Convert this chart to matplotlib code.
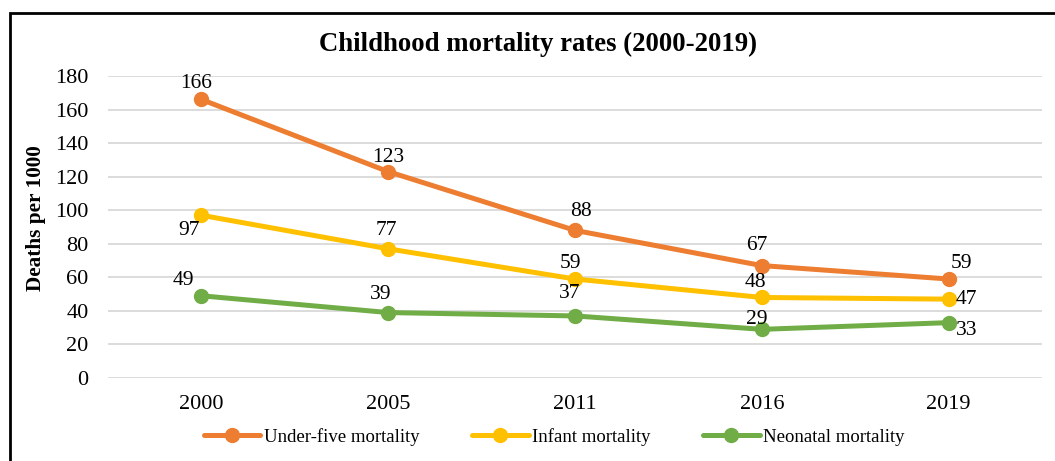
import matplotlib
matplotlib.use("Agg")
import matplotlib.pyplot as plt
from matplotlib.patches import Rectangle

years = ["2000", "2005", "2011", "2016", "2019"]
under_five = [166, 123, 88, 67, 59]
infant = [97, 77, 59, 48, 47]
neonatal = [49, 39, 37, 29, 33]

# label offsets in pixels (dx, dy) for each point
off_u5 = [(-5, 16), (0, 14), (6, 19), (-5, 20), (13, 16)]
off_inf = [(-12, -15), (-2, 18), (-5, 16), (-6, 15), (18, 0)]
off_neo = [(-18, 15), (-8, 18), (-5, 22), (-5, 10), (18, -8)]

plt.rcParams['font.family'] = ['Liberation Serif', 'DejaVu Serif']

fig = plt.figure(figsize=(10.55, 4.61), dpi=100)
ax = fig.add_axes([108 / 1055, 1 - 378 / 461, 934 / 1055, 302 / 461])

x = list(range(len(years)))
series = [
    (under_five, "#ED7D31", "Under-five mortality", off_u5),
    (infant, "#FFC000", "Infant mortality", off_inf),
    (neonatal, "#70AD47", "Neonatal mortality", off_neo),
]
for vals, col, name, offs in series:
    ax.plot(x, vals, color=col, lw=3.6, marker="o", ms=10, label=name,
            solid_capstyle="round", zorder=3)
    for xi, v, (dx, dy) in zip(x, vals, offs):
        ax.annotate(str(v), (xi, v), xytext=(dx, dy), textcoords="offset pixels",
                    ha="center", va="center", fontsize=15.5, color="#000000")

ax.set_xlim(-0.5, 4.5)
ax.set_ylim(0, 180)
ax.set_yticks(range(0, 181, 20))
ax.set_xticks(x)
ax.set_xticklabels(years)
ax.tick_params(length=0, labelsize=16, colors="#000000")
ax.tick_params(axis="y", pad=14)
ax.tick_params(axis="x", pad=12)
ax.grid(axis="y", color="#D9D9D9", lw=1.3)
ax.set_axisbelow(True)
for s in ax.spines.values():
    s.set_visible(False)

ax.set_ylabel("Deaths per 1000", fontsize=15.3, fontweight="bold")
ax.yaxis.set_label_coords(-62 / 934, 0.53)

fig.suptitle("Childhood mortality rates (2000-2019)", fontsize=19.3,
             fontweight="bold", x=538 / 1055, y=1 - 44 / 461, va="center")

ax.legend(loc="center", bbox_to_anchor=(0.478, (378 - 437) / 302), ncol=3,
          frameon=False, fontsize=13.5, handlelength=3, handletextpad=0.2,
          columnspacing=2.8)

# outer frame, left and top edges visible
fig.patches.append(Rectangle((10 / 1055, -0.1), 1.2, 1 - 13 / 461 + 0.1,
                             transform=fig.transFigure, fill=False,
                             edgecolor="black", lw=2))

fig.savefig("out.png", dpi=100)
